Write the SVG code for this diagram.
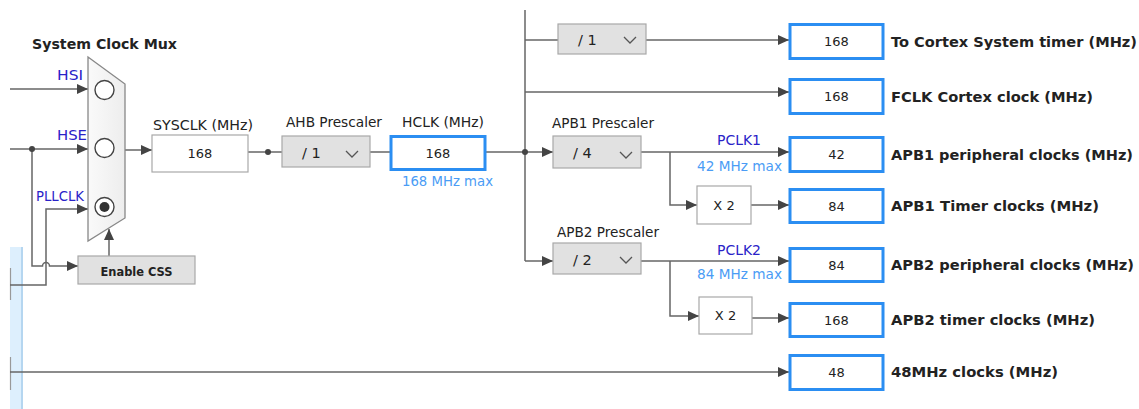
<svg xmlns="http://www.w3.org/2000/svg" width="1139" height="409" viewBox="0 0 1139 409">
<style>
text{font-family:"DejaVu Sans","Liberation Sans",sans-serif;fill:#222}
.lbl{font-size:13.5px}
.blue{font-size:13.5px;fill:#2a22c8}
.max{font-size:13.5px;fill:#4a9cf5}
.out{font-size:14.4px;font-weight:bold}
.title{font-size:14px;font-weight:bold}
.num{font-size:13px;text-anchor:middle}
.wire{fill:none;stroke:#666;stroke-width:1.5}
.obox{fill:#fff;stroke:#2b8ef2;stroke-width:3}
.pbox{fill:#e1e1e1;stroke:#a8a8a8;stroke-width:1.2}
.wbox{fill:#fff;stroke:#a8a8a8;stroke-width:1.2}
.chev{fill:none;stroke:#555;stroke-width:1.3}
.dot{fill:#444}
.sel{fill:#fff;stroke:#444;stroke-width:1.4}
</style>
<defs>
<marker id="arr" viewBox="0 0 11 10" refX="11" refY="5" markerWidth="11" markerHeight="10" markerUnits="userSpaceOnUse" orient="auto">
<path d="M0,0 L11,5 L0,10 Z" fill="#444"/>
</marker>
<linearGradient id="fade" x1="0" y1="0" x2="0" y2="1">
<stop offset="0" stop-color="#cfcfcf"/>
<stop offset="0.6" stop-color="#666"/>
</linearGradient>
<linearGradient id="muxfill" x1="0" y1="0" x2="1" y2="0">
<stop offset="0" stop-color="#fafafa"/>
<stop offset="1" stop-color="#ededed"/>
</linearGradient>
</defs>
<rect width="1139" height="409" fill="#fff"/>
<g id="leftpanel">
<rect x="10" y="247" width="13" height="162" fill="#ddeffd"/>
<line x1="22" y1="247" x2="22" y2="409" stroke="#b5d6f0" stroke-width="2"/>
<line x1="10.5" y1="268" x2="10.5" y2="300" stroke="#999" stroke-width="1.2"/>
<line x1="10.5" y1="357" x2="10.5" y2="390" stroke="#999" stroke-width="1.2"/>
</g>
<g id="connectors">
<line x1="268" y1="10" x2="268" y2="152" stroke="url(#fade)" stroke-width="1.5"/>
<path class="wire" d="M10,89 H88" marker-end="url(#arr)"/>
<path class="wire" d="M10,149 H88" marker-end="url(#arr)"/>
<path class="wire" d="M10,285 H46 V209 H88" marker-end="url(#arr)"/>
<path class="wire" d="M32,149 V266 H42.5 A3.5,3.5 0 0 1 49.5,266 H78" marker-end="url(#arr)"/>
<path class="wire" d="M109,256 V229" marker-end="url(#arr)"/>
<path class="wire" d="M125,150 H152" marker-end="url(#arr)"/>
<path class="wire" d="M248,152 H282"/>
<path class="wire" d="M370,152 H390"/>
<path class="wire" d="M486,152 H525"/>
<path class="wire" d="M525,10 V261"/>
<path class="wire" d="M525,40 H558"/>
<path class="wire" d="M646,40 H789" marker-end="url(#arr)"/>
<path class="wire" d="M525,92 H789" marker-end="url(#arr)"/>
<path class="wire" d="M525,152 H553" marker-end="url(#arr)"/>
<path class="wire" d="M641,152 H789" marker-end="url(#arr)"/>
<path class="wire" d="M670,152 V205 H697" marker-end="url(#arr)"/>
<path class="wire" d="M751,205 H789" marker-end="url(#arr)"/>
<path class="wire" d="M525,261 H553" marker-end="url(#arr)"/>
<path class="wire" d="M641,261 H789" marker-end="url(#arr)"/>
<path class="wire" d="M670,261 V316 H699" marker-end="url(#arr)"/>
<path class="wire" d="M752,318 H789" marker-end="url(#arr)"/>
<path class="wire" d="M10,372 H789" marker-end="url(#arr)"/>
<circle class="dot" cx="32" cy="149" r="3"/>
<circle class="dot" cx="268" cy="152" r="3"/>
<circle class="dot" cx="525" cy="152" r="3"/>
</g>
<g id="mux">
<text class="title" x="32" y="48.5" textLength="145" lengthAdjust="spacingAndGlyphs">System Clock Mux</text>
<polygon points="88,57 125,84 125,218 88,241" fill="url(#muxfill)" stroke="#888" stroke-width="1.3"/>
<circle class="sel" cx="104.5" cy="90" r="9.5"/>
<circle class="sel" cx="104.5" cy="148" r="9.5"/>
<circle class="sel" cx="104.5" cy="207" r="9.5"/>
<circle cx="104.5" cy="207" r="5" fill="#333"/>
<text class="blue" x="57" y="80" textLength="26" lengthAdjust="spacingAndGlyphs">HSI</text>
<text class="blue" x="57" y="140" textLength="30" lengthAdjust="spacingAndGlyphs">HSE</text>
<text class="blue" x="36" y="201" textLength="48" lengthAdjust="spacingAndGlyphs">PLLCLK</text>
</g>
<g id="css">
<rect class="pbox" x="78" y="256" width="117" height="28"/>
<text x="136.5" y="275.5" text-anchor="middle" font-size="12.5" font-weight="bold" fill="#333" textLength="72" lengthAdjust="spacingAndGlyphs">Enable CSS</text>
</g>
<g id="sysclk">
<text class="lbl" x="153" y="129.5" textLength="100" lengthAdjust="spacingAndGlyphs">SYSCLK (MHz)</text>
<rect class="wbox" x="152" y="135" width="96" height="37"/>
<text class="num" x="200" y="158">168</text>
</g>
<g id="ahb">
<text class="lbl" x="286" y="127" textLength="96" lengthAdjust="spacingAndGlyphs">AHB Prescaler</text>
<rect class="pbox" x="282" y="136" width="88" height="31"/>
<text x="302" y="158" font-size="14.5">/ 1</text>
<polyline class="chev" points="346,151 352,157 358,151"/>
</g>
<g id="hclk">
<text class="lbl" x="402" y="127" textLength="82" lengthAdjust="spacingAndGlyphs">HCLK (MHz)</text>
<rect class="obox" x="391" y="136.5" width="94" height="33"/>
<text class="num" x="438" y="158">168</text>
<text class="max" x="402" y="186" textLength="91" lengthAdjust="spacingAndGlyphs">168 MHz max</text>
</g>
<g id="systick-div">
<rect class="pbox" x="558" y="24" width="88" height="30"/>
<text x="578" y="45" font-size="14.5">/ 1</text>
<polyline class="chev" points="624,37 630,43 636,37"/>
</g>
<g id="apb1">
<text class="lbl" x="552" y="128" textLength="102" lengthAdjust="spacingAndGlyphs">APB1 Prescaler</text>
<rect class="pbox" x="553" y="136" width="88" height="32"/>
<text x="573" y="158" font-size="14.5">/ 4</text>
<polyline class="chev" points="620,152 626,158 632,152"/>
<text class="blue" x="717" y="145" textLength="44" lengthAdjust="spacingAndGlyphs">PCLK1</text>
<text class="max" x="697" y="171" textLength="85" lengthAdjust="spacingAndGlyphs">42 MHz max</text>
</g>
<g id="apb1x2">
<rect class="wbox" x="697" y="186" width="54" height="38"/>
<text class="num" x="724" y="210">X 2</text>
</g>
<g id="apb2">
<text class="lbl" x="557" y="237" textLength="102" lengthAdjust="spacingAndGlyphs">APB2 Prescaler</text>
<rect class="pbox" x="553" y="243" width="88" height="31"/>
<text x="573" y="265" font-size="14.5">/ 2</text>
<polyline class="chev" points="620,257 626,263 632,257"/>
<text class="blue" x="717" y="255" textLength="44" lengthAdjust="spacingAndGlyphs">PCLK2</text>
<text class="max" x="697" y="279" textLength="85" lengthAdjust="spacingAndGlyphs">84 MHz max</text>
</g>
<g id="apb2x2">
<rect class="wbox" x="699" y="297" width="53" height="37"/>
<text class="num" x="725.5" y="320">X 2</text>
</g>
<g id="out-systick">
<rect class="obox" x="790" y="24.5" width="93" height="34"/>
<text class="num" x="836.5" y="46">168</text>
<text class="out" x="891" y="46.5" textLength="246" lengthAdjust="spacingAndGlyphs">To Cortex System timer (MHz)</text>
</g>
<g id="out-fclk">
<rect class="obox" x="790" y="79.5" width="93" height="34"/>
<text class="num" x="836.5" y="101">168</text>
<text class="out" x="891" y="101.5" textLength="202" lengthAdjust="spacingAndGlyphs">FCLK Cortex clock (MHz)</text>
</g>
<g id="out-apb1p">
<rect class="obox" x="790" y="137.5" width="93" height="34"/>
<text class="num" x="836.5" y="159">42</text>
<text class="out" x="891" y="159.5" textLength="242" lengthAdjust="spacingAndGlyphs">APB1 peripheral clocks (MHz)</text>
</g>
<g id="out-apb1t">
<rect class="obox" x="790" y="189.5" width="93" height="33"/>
<text class="num" x="836.5" y="210.5">84</text>
<text class="out" x="891" y="210.5" textLength="208" lengthAdjust="spacingAndGlyphs">APB1 Timer clocks (MHz)</text>
</g>
<g id="out-apb2p">
<rect class="obox" x="790" y="248.5" width="93" height="33"/>
<text class="num" x="836.5" y="269.5">84</text>
<text class="out" x="891" y="269.5" textLength="243" lengthAdjust="spacingAndGlyphs">APB2 peripheral clocks (MHz)</text>
</g>
<g id="out-apb2t">
<rect class="obox" x="790" y="303.5" width="93" height="33"/>
<text class="num" x="836.5" y="324.5">168</text>
<text class="out" x="891" y="324.5" textLength="204" lengthAdjust="spacingAndGlyphs">APB2 timer clocks (MHz)</text>
</g>
<g id="out-48">
<rect class="obox" x="790" y="355.5" width="93" height="34"/>
<text class="num" x="836.5" y="377">48</text>
<text class="out" x="891" y="377" textLength="167" lengthAdjust="spacingAndGlyphs">48MHz clocks (MHz)</text>
</g>
</svg>
